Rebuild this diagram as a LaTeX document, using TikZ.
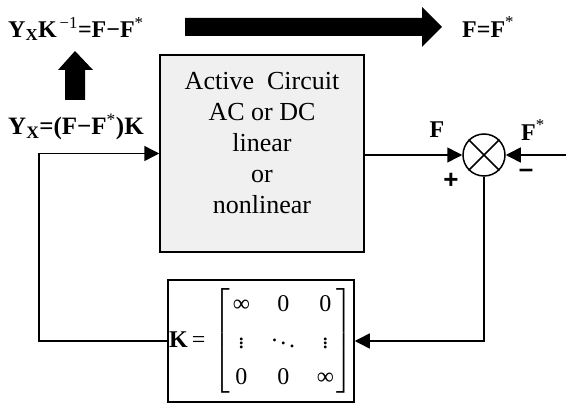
\documentclass[tikz,border=0pt]{standalone}
\usepackage{amsmath}
\usepackage{array}
\usepackage{fontspec}
\setmainfont{Liberation Serif}
\setsansfont{Liberation Sans}
\usetikzlibrary{positioning, arrows.meta, shapes.geometric}
\tikzset{
  blk/.style={draw, line width=1.5pt, inner sep=0pt},
  lbl/.style={font=\fontsize{24}{28}\selectfont\bfseries, inner sep=0pt},
  sgn/.style={font=\fontsize{26}{30}\selectfont\sffamily\bfseries, inner sep=0pt},
  wire/.style={line width=1.5pt, -{Triangle[length=15pt,width=15pt]}},
}
\newcommand{\nz}{\text{0}}
\newcommand{\nf}{\text{∞}}
\begin{document}
\begin{tikzpicture}[x=1pt,y=-1pt]
    \useasboundingbox (0,0) rectangle (566,403);

    % Active circuit block
    \node[blk, fill=gray!12, minimum width=204pt, minimum height=197pt] (ckt) at (262,153.5) {};
    \node[font=\fontsize{26}{31}\selectfont, align=center] (ckttxt) at (262,143)
        {Active\ \ Circuit\\AC or DC\\linear\\or\\nonlinear};

    % summing point
    \node[blk, circle, minimum size=42pt] (sum) at (484,155) {};
    \draw[line width=1.5pt] (sum.north west) -- (sum.south east)
        (sum.north east) -- (sum.south west);

    % K block
    \node[blk, minimum width=186pt, minimum height=122pt,
          font=\fontsize{24}{28}\selectfont] (kblk) at (261,341)
        {\renewcommand\arraystretch{1.3}\nulldelimiterspace=0pt%
         $\textbf{K}\mkern3mu\text{=}\mkern3mu\left[\begin{array}{@{\hspace{2pt}}w{c}{18pt}@{\hspace{24pt}}w{c}{18pt}@{\hspace{24pt}}w{c}{18pt}@{\hspace{2pt}}}
            \nf&\nz&\nz\\ \vdots&\ddots&\vdots\\ \nz&\nz&\nf\end{array}\right]$};

    % wires
    \coordinate (fin) at (566,155);
    \coordinate (fbl) at (39,153.5);
    \draw[wire] (sum.west -| ckt.east) -- (sum.west);
    \draw[wire] (fin) -- (sum.east);
    \draw[wire] (sum.south) |- (kblk.east);
    \draw[wire] (kblk.west) -| (fbl) |- (ckt.west);

    % labels
    \node[lbl, anchor=west] (eqtop) at (8,29)
        {Y\textsubscript{X}K\textsuperscript{\mdseries\,−1}=F−F\textsuperscript{\mdseries *}};
    \node[lbl, anchor=west, font=\fontsize{25}{29}\selectfont\bfseries] (eqbot) at (8,127)
        {Y\textsubscript{X}=(F−F\textsuperscript{\mdseries *})K};
    \node[lbl, anchor=west] (eqrt) at (462,27) {F=F\textsuperscript{\mdseries *}};
    \node[lbl] (lf) at (437,130) {F};
    \node[lbl, anchor=west] (lfs) at (521,130) {F\textsuperscript{\mdseries *}};
    \node[sgn] (plus) at (451,181) {+};
    \node[sgn] (minus) at (526,173) {–};

    % fat arrows
    \fill (185,18) -- (422,18) -- (422,7) -- (442,27) -- (422,47) -- (422,36) -- (185,36) -- cycle;
    \fill (65,100) -- (65,70) -- (58,70) -- (75,51) -- (93,70) -- (85,70) -- (85,100) -- cycle;
\end{tikzpicture}
\end{document}
